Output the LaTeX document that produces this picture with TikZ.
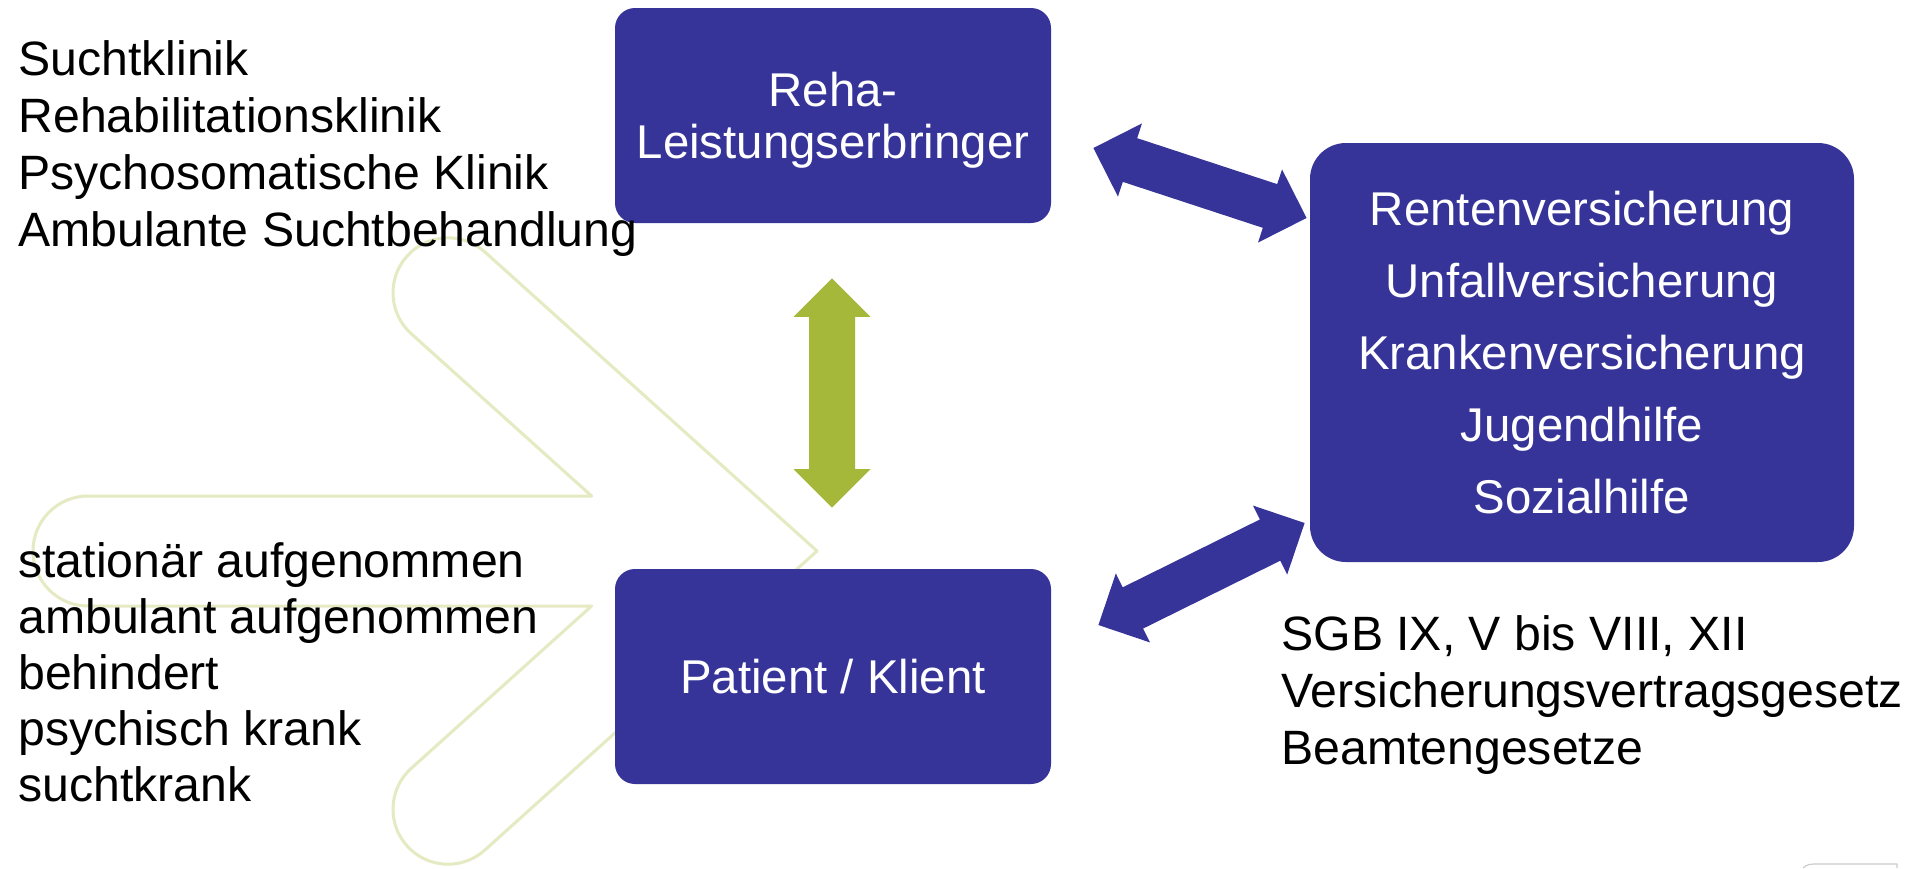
\documentclass[tikz,border=0pt]{standalone}
\usepackage{fontspec}
\setmainfont{Liberation Sans}
\usetikzlibrary{calc}

\definecolor{rehablau}{RGB}{54,52,152}
\definecolor{rehagruen}{RGB}{165,184,57}
\definecolor{logogruen}{RGB}{229,234,194}

\tikzset{
	kasten/.style={fill=rehablau, text=white, align=center, inner sep=0pt, text depth=0pt,
		minimum width=218pt, minimum height=107.5pt, rounded corners=10pt,
		font=\fontsize{23.7}{26}\selectfont},
	liste/.style={anchor=base west, inner sep=0pt, font=\fontsize{24.1}{28.5}\selectfont},
	logo/.style={draw=logogruen, line width=1.5pt, line join=round}
}

% block arrow with two heads from #1 to #2 in colour #3
\newcommand{\doppelpfeil}[3]{%
	\path let \p1=($(#2)-(#1)$) in
		\pgfextra{\pgfmathsetmacro\pfeilwinkel{atan2(\y1,\x1)}%
			\pgfmathsetmacro\pfeillaenge{veclen(\x1,\y1)}%
			\global\let\pfeilwinkel\pfeilwinkel\global\let\pfeillaenge\pfeillaenge};
	\fill[#3, shift={(#1)}, rotate=\pfeilwinkel]
		(0pt,0pt) -- (19.25pt,19.25pt) -- (19.25pt,11.5pt)
		-- (\pfeillaenge pt-19.25pt,11.5pt) -- (\pfeillaenge pt-19.25pt,19.25pt)
		-- (\pfeillaenge pt,0pt)
		-- (\pfeillaenge pt-19.25pt,-19.25pt) -- (\pfeillaenge pt-19.25pt,-11.5pt)
		-- (19.25pt,-11.5pt) -- (19.25pt,-19.25pt) -- cycle;}

\begin{document}
\begin{tikzpicture}[x=0.5pt, y=-0.5pt]
		% page
		\path[use as bounding box, fill=white] (0,0) rectangle (1907,868);
		% logo in the background
		\draw[logo] (484.8,251.9) -- (817,551) -- (484.8,850.1)
			arc[start angle=48, end angle=228, radius=55]
			-- (591.6,606) -- (88,606)
			arc[start angle=90, end angle=270, radius=55]
			-- (591.6,496) -- (411.2,333.7)
			arc[start angle=132, end angle=312, radius=55] -- cycle;
		\draw[black!20, line width=0.6pt] (1803,868) .. controls (1808,864) .. (1822,864) -- (1897,864) -- (1897,868);
		% boxes
		\node[kasten] (reha) at (833,115.5) {Reha-\\Leistungserbringer};
		\node[kasten] (patient) at (833,676.5) {Patient / Klient};
		\node[kasten, minimum width=272pt, minimum height=209.5pt, rounded corners=18pt,
			font=\fontsize{23.7}{36}\selectfont] (traeger) at (1582,352.5)
			{Rentenversicherung\\Unfallversicherung\\Krankenversicherung\\Jugendhilfe\\Sozialhilfe};
		% arrows
		\coordinate (gruen1) at ($(reha.south)+(-1,55)$);
		\coordinate (gruen2) at ($(patient.north)+(-1,-61)$);
		\coordinate (oben1) at ($(reha.east)+(42,32.5)$);
		\coordinate (oben2) at ($(traeger.west)+(-3,-134.5)$);
		\coordinate (unten1) at ($(patient.east)+(47,-51.5)$);
		\coordinate (unten2) at ($(traeger.west)+(-5,170.5)$);
		\doppelpfeil{gruen1}{gruen2}{rehagruen}
		\doppelpfeil{oben1}{oben2}{rehablau}
		\doppelpfeil{unten1}{unten2}{rehablau}
		% lists
		\foreach \txt [count=\i] in {Suchtklinik, Rehabilitationsklinik, Psychosomatische Klinik, Ambulante Suchtbehandlung}
		{
			\node[liste] (einr\i) at (18,18+57*\i) {\txt};
		}
		\foreach \txt [count=\i] in {stationär aufgenommen, ambulant aufgenommen, behindert, psychisch krank, suchtkrank}
		{
			\node[liste] (pat\i) at (18,521+56*\i) {\txt};
		}
		\foreach \txt [count=\i] in {{SGB IX, V bis VIII, XII}, Versicherungsvertragsgesetz, Beamtengesetze}
		{
			\node[liste] (recht\i) at (1281,593+57*\i) {\txt};
		}
\end{tikzpicture}
\end{document}
